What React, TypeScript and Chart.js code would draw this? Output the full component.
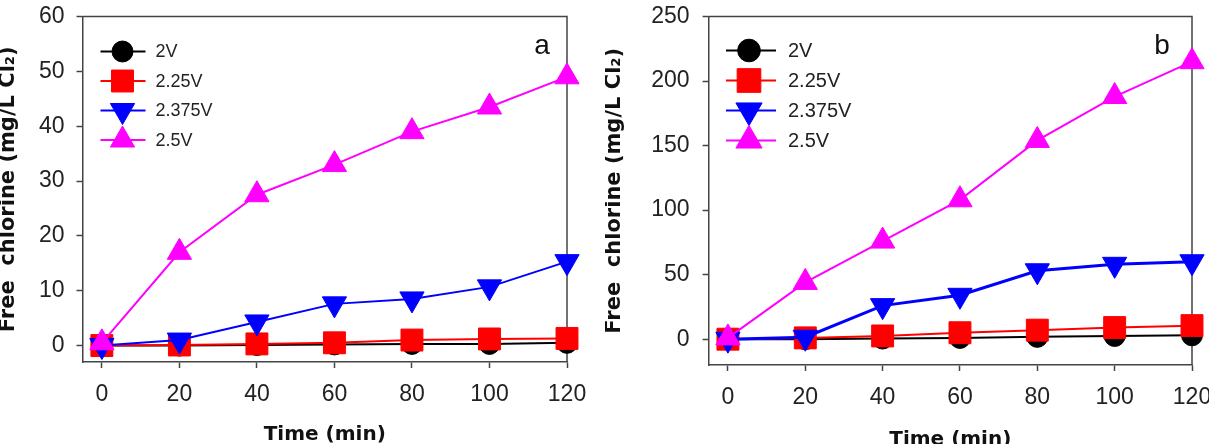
import React, { useEffect, useRef } from 'react';
import { Chart, registerables } from 'chart.js';
import { drawPoint } from 'chart.js/helpers';

Chart.register(...registerables);

// ---------- data ----------
const timeMin = [0, 20, 40, 60, 80, 100, 120];
const seriesLabels = ['2V', '2.25V', '2.375V', '2.5V'];

// panel a
const a2V = [0, 0, 0.1, 0.2, 0.3, 0.3, 0.5];
const a225V = [0, 0.1, 0.3, 0.5, 1.0, 1.2, 1.3];
const a2375V = [0, 1.0, 4.3, 7.6, 8.5, 10.7, 15.3];
const a25V = [0.5, 17, 27.5, 33, 39, 43.5, 49];

// panel b
const b2V = [0, 0, 0.5, 1, 1.8, 2.5, 3];
const b225V = [0, 1, 2.5, 5, 7, 9, 10.5];
const b2375V = [0, 1.5, 26, 34, 53, 58, 60];
const b25V = [1, 44, 76, 108, 154, 188, 215];

const xTicks = [0, 20, 40, 60, 80, 100, 120];
const yTicksA = [0, 10, 20, 30, 40, 50, 60];
const yTicksB = [0, 50, 100, 150, 200, 250];

const xTitle = 'Time (min)';
const yTitle = 'Free  chlorine (mg/L Cl\u2082)';

// ---------- styles ----------
const FONT = '"Liberation Sans", Arial, Helvetica, sans-serif';
const TITLE_FONT = '"DejaVu Sans", "Liberation Sans", sans-serif';
const seriesColors = ['#000000', '#ff0000', '#0000ff', '#ff00ff'];
const seriesPointStyles = ['circle', 'rect', 'triangle', 'triangle'];
const seriesRotations = [0, 0, 180, 0];
const seriesRadii = [10.5, 15.5, 14, 14];
const axisColor = '#444';
const TICK_SIZE = 23;

type Area = { left: number; right: number; top: number; bottom: number };
type PanelSpec = {
  x: number;
  w: number;
  h: number;
  area: Area;
  yMin: number;
  yMax: number;
  yTicks: number[];
  values: number[][];
  lineWidths: number[];
  letter: string;
  letterDx: number;
  letterDy: number;
  legend: { lineX0: number; lineX1: number; markerX: number; textX: number; rows: number[]; fontSize: number; scale: number };
  yTitlePad: number;
  xTitlePad: number;
  yTickPad: number;
  xTickPad: number;
};

const panels: PanelSpec[] = [
  {
    x: 0,
    w: 605,
    h: 444,
    area: { left: 82.5, right: 567, top: 13, bottom: 362 },
    yMin: -3,
    yMax: 60,
    yTicks: yTicksA,
    values: [a2V, a225V, a2375V, a25V],
    lineWidths: [2, 2, 2, 2],
    letter: 'a',
    letterDx: -25,
    letterDy: 37,
    legend: { lineX0: 18, lineX1: 63, markerX: 40, textX: 73, rows: [35, 64.5, 94, 123.5], fontSize: 18, scale: 1 },
    yTitlePad: 0,
    xTitlePad: 1.3,
    yTickPad: 12,
    xTickPad: 12.5,
  },
  {
    x: 605,
    w: 604,
    h: 444,
    area: { left: 103.6, right: 587, top: 16, bottom: 365 },
    yMin: -20,
    yMax: 250,
    yTicks: yTicksB,
    values: [b2V, b225V, b2375V, b25V],
    lineWidths: [2, 2, 3, 2],
    letter: 'b',
    letterDx: -30,
    letterDy: 37,
    legend: { lineX0: 17.4, lineX1: 67.4, markerX: 40.4, textX: 79.4, rows: [34, 64, 94, 124], fontSize: 20, scale: 1.08 },
    yTitlePad: 1.5,
    xTitlePad: -3.7,
    yTickPad: 13,
    xTickPad: 12.5,
  },
];

function buildConfig(p: PanelSpec): any {
  const datasets = seriesLabels.map((label, i) => ({
    label,
    data: timeMin.map((t, k) => ({ x: t, y: p.values[i][k] })),
    borderColor: seriesColors[i],
    backgroundColor: seriesColors[i],
    borderWidth: p.lineWidths[i],
    pointStyle: seriesPointStyles[i],
    pointRotation: seriesRotations[i],
    pointRadius: seriesRadii[i],
    pointHoverRadius: seriesRadii[i],
    pointBorderWidth: 1,
    pointBorderColor: seriesColors[i],
    pointBackgroundColor: seriesColors[i],
    tension: 0,
    fill: false,
    clip: false,
    order: 4 - i,
  }));

  const framePlugin = {
    id: 'frame',
    beforeDatasetsDraw(chart: any) {
      const { ctx, chartArea } = chart;
      ctx.save();
      ctx.strokeStyle = axisColor;
      ctx.lineWidth = 1.5;
      ctx.beginPath();
      ctx.moveTo(chartArea.left, chartArea.top);
      ctx.lineTo(chartArea.right, chartArea.top);
      ctx.lineTo(chartArea.right, chartArea.bottom);
      ctx.stroke();
      ctx.restore();
    },
  };

  const legendPlugin = {
    id: 'insideLegend',
    afterDraw(chart: any) {
      const { ctx, chartArea } = chart;
      const L = p.legend;
      ctx.save();
      seriesLabels.forEach((label, i) => {
        const y = chartArea.top + L.rows[i];
        ctx.strokeStyle = seriesColors[i];
        ctx.fillStyle = seriesColors[i];
        ctx.lineWidth = 2;
        ctx.beginPath();
        ctx.moveTo(chartArea.left + L.lineX0, y);
        ctx.lineTo(chartArea.left + L.lineX1, y);
        ctx.stroke();
        ctx.lineWidth = 1;
        drawPoint(
          ctx,
          {
            pointStyle: seriesPointStyles[i],
            rotation: seriesRotations[i],
            radius: seriesRadii[i] * L.scale,
            borderWidth: 1,
          } as any,
          chartArea.left + L.markerX,
          y
        );
        ctx.fillStyle = '#222';
        ctx.font = `${L.fontSize}px ${FONT}`;
        ctx.textAlign = 'left';
        ctx.textBaseline = 'middle';
        ctx.fillText(label, chartArea.left + L.textX, y + 1);
      });
      ctx.fillStyle = '#111';
      ctx.font = `28px ${FONT}`;
      ctx.textAlign = 'center';
      ctx.textBaseline = 'alphabetic';
      ctx.fillText(p.letter, chartArea.right + p.letterDx, chartArea.top + p.letterDy);
      ctx.restore();
    },
  };

  return {
    type: 'line',
    data: { datasets },
    options: {
      responsive: false,
      animation: false,
      devicePixelRatio: 1,
      layout: { padding: { left: 0, top: p.area.top, right: p.w - p.area.right, bottom: 0 } },
      plugins: { legend: { display: false }, tooltip: { enabled: false }, title: { display: false } },
      scales: {
        x: {
          type: 'linear',
          min: -5,
          max: 120,
          afterBuildTicks: (s: any) => {
            s.ticks = xTicks.map((v) => ({ value: v }));
          },
          afterFit: (s: any) => {
            s.height = p.h - p.area.bottom;
            s.paddingLeft = 0;
            s.paddingRight = 0;
          },
          ticks: {
            font: { family: FONT, size: TICK_SIZE },
            color: '#222',
            padding: p.xTickPad,
            maxRotation: 0,
            minRotation: 0,
            autoSkip: false,
          },
          grid: { drawOnChartArea: false, drawTicks: true, tickLength: 6, tickColor: axisColor, tickWidth: 1.5 },
          border: { display: true, color: axisColor, width: 1.5 },
          title: {
            display: true,
            text: xTitle,
            color: '#111',
            font: { family: TITLE_FONT, size: 20, weight: 'bold', lineHeight: 0.8 },
            padding: { top: 0, bottom: p.xTitlePad },
          },
        },
        y: {
          type: 'linear',
          min: p.yMin,
          max: p.yMax,
          afterBuildTicks: (s: any) => {
            s.ticks = p.yTicks.map((v) => ({ value: v }));
          },
          afterFit: (s: any) => {
            s.width = p.area.left;
            s.paddingTop = 0;
            s.paddingBottom = 0;
          },
          ticks: {
            font: { family: FONT, size: TICK_SIZE },
            color: '#222',
            padding: p.yTickPad,
            autoSkip: false,
          },
          grid: { drawOnChartArea: false, drawTicks: true, tickLength: 6, tickColor: axisColor, tickWidth: 1.5 },
          border: { display: true, color: axisColor, width: 1.5 },
          title: {
            display: true,
            text: yTitle,
            color: '#111',
            font: { family: TITLE_FONT, size: 21, weight: 'bold', lineHeight: 0.8 },
            padding: { top: p.yTitlePad, bottom: 0 },
          },
        },
      },
    },
    plugins: [framePlugin, legendPlugin],
  };
}

function Panel({ spec }: { spec: PanelSpec }) {
  const ref = useRef<HTMLCanvasElement>(null);
  useEffect(() => {
    const chart = new Chart(ref.current as HTMLCanvasElement, buildConfig(spec));
    return () => chart.destroy();
  }, [spec]);
  return (
    <canvas
      ref={ref}
      width={spec.w}
      height={spec.h}
      style={{ position: 'absolute', left: spec.x, top: 0, width: spec.w, height: spec.h, display: 'block' }}
    />
  );
}

export default function App() {
  return (
    <div
      style={{
        position: 'absolute',
        left: 0,
        top: 0,
        width: 1209,
        height: 444,
        overflow: 'hidden',
        background: '#ffffff',
      }}
    >
      {panels.map((p) => (
        <Panel key={p.letter} spec={p} />
      ))}
    </div>
  );
}
